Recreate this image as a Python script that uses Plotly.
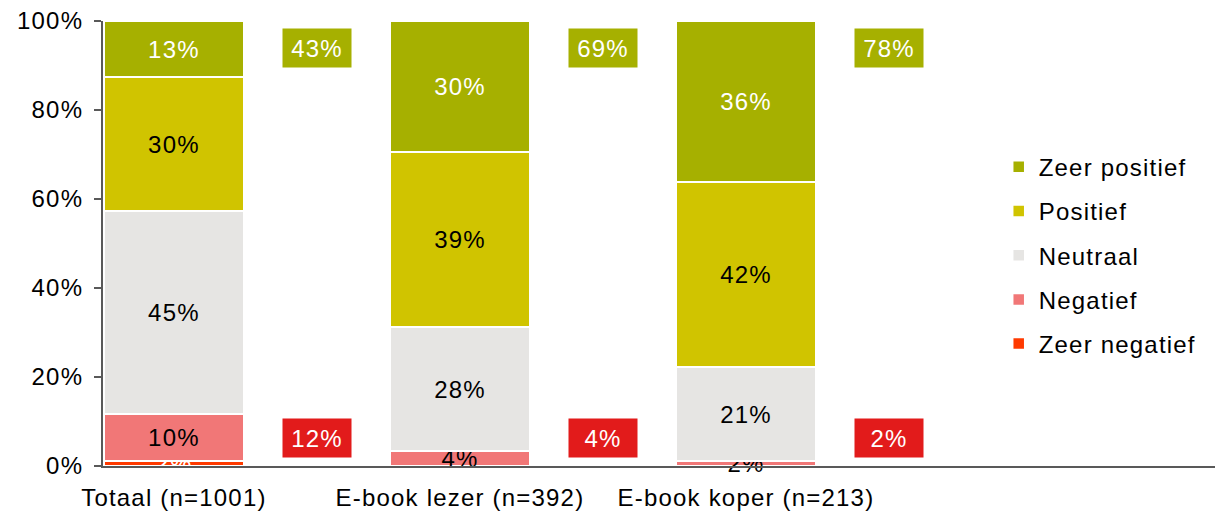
import plotly.graph_objects as go

categories = ["Totaal (n=1001)", "E-book lezer (n=392)", "E-book koper (n=213)"]
series_names = ["Zeer negatief", "Negatief", "Neutraal", "Positief", "Zeer positief"]
zeer_negatief = [1.1, 0.0, 0.0]
negatief = [10.6, 3.4, 1.1]
neutraal = [45.6, 27.8, 21.1]
positief = [30.1, 39.4, 41.6]
zeer_positief = [12.6, 29.4, 36.2]
label_zeer_negatief = ["2%", "0%", "0%"]
label_negatief = ["10%", "4%", "2%"]
label_neutraal = ["45%", "28%", "21%"]
label_positief = ["30%", "39%", "42%"]
label_zeer_positief = ["13%", "30%", "36%"]
total_positive = ["43%", "69%", "78%"]
total_negative = ["12%", "4%", "2%"]
y_ticks = [0, 20, 40, 60, 80, 100]

colors = ["#ff3a00", "#f17777", "#e6e5e3", "#d0c400", "#a6b000"]
text_colors = ["white", "black", "black", "black", "white"]
values = [zeer_negatief, negatief, neutraal, positief, zeer_positief]
labels = [label_zeer_negatief, label_negatief, label_neutraal, label_positief, label_zeer_positief]

FONT = "Liberation Sans, Arial, sans-serif"
FS = 24
xs = list(range(len(categories)))

fig = go.Figure()
n = len(series_names)
for i, name in enumerate(series_names):
    fig.add_trace(go.Bar(
        x=xs, y=values[i], name=name, text=labels[i],
        textposition="inside", insidetextanchor="middle", textangle=0,
        textfont=dict(color=text_colors[i], size=FS, family=FONT),
        marker=dict(color=colors[i], line=dict(color="white", width=1.5)),
        width=0.49, legendgroup=name, legendrank=n - i, cliponaxis=False,
    ))

for i in xs:
    fig.add_annotation(x=i + 0.5, y=94, text=total_positive[i], showarrow=False,
                       bgcolor="#a6b000", width=66, height=36,
                       font=dict(color="white", size=FS, family=FONT))
    fig.add_annotation(x=i + 0.5, y=6.2, text=total_negative[i], showarrow=False,
                       bgcolor="#e21b1b", width=66, height=36,
                       font=dict(color="white", size=FS, family=FONT))

fig.update_layout(
    barmode="stack",
    width=1229, height=513,
    margin=dict(l=103, r=14, t=21, b=47, autoexpand=False),
    plot_bgcolor="white", paper_bgcolor="white",
    font=dict(family=FONT, size=FS, color="black"),
    uniformtext=dict(minsize=FS, mode="show"),
    showlegend=True,
    legend=dict(x=0.8055, y=0.722, xanchor="left", yanchor="top",
                traceorder="grouped", tracegroupgap=10,
                font=dict(size=FS, family=FONT), bgcolor="rgba(0,0,0,0)"),
    bargap=0.5,
)
fig.update_xaxes(
    tickmode="array", tickvals=xs, ticktext=categories, automargin=False,
    range=[-0.248, 3.64], showline=True, linecolor="#595959", linewidth=2,
    showgrid=False, zeroline=False, ticks="", ticklabelstandoff=9,
    tickfont=dict(size=FS, color="black"),
)
fig.update_yaxes(
    range=[0, 100], tickvals=y_ticks, ticktext=[f"{v}%" for v in y_ticks],
    automargin=False,
    showline=True, linecolor="#595959", linewidth=2, ticks="outside",
    ticklen=7, tickcolor="#595959", tickwidth=2, showgrid=False, zeroline=False,
    ticklabelstandoff=6, tickfont=dict(size=FS, color="black"),
)

fig.write_html("out.html", config={"displayModeBar": False})
with open("out.html", "r", encoding="utf-8") as f:
    html = f.read()
html = html.replace(
    "<head>",
    "<head><style>html,body{margin:0;padding:0;overflow:hidden;} svg text{letter-spacing:1.2px;}</style>",
    1,
)
with open("out.html", "w", encoding="utf-8") as f:
    f.write(html)
